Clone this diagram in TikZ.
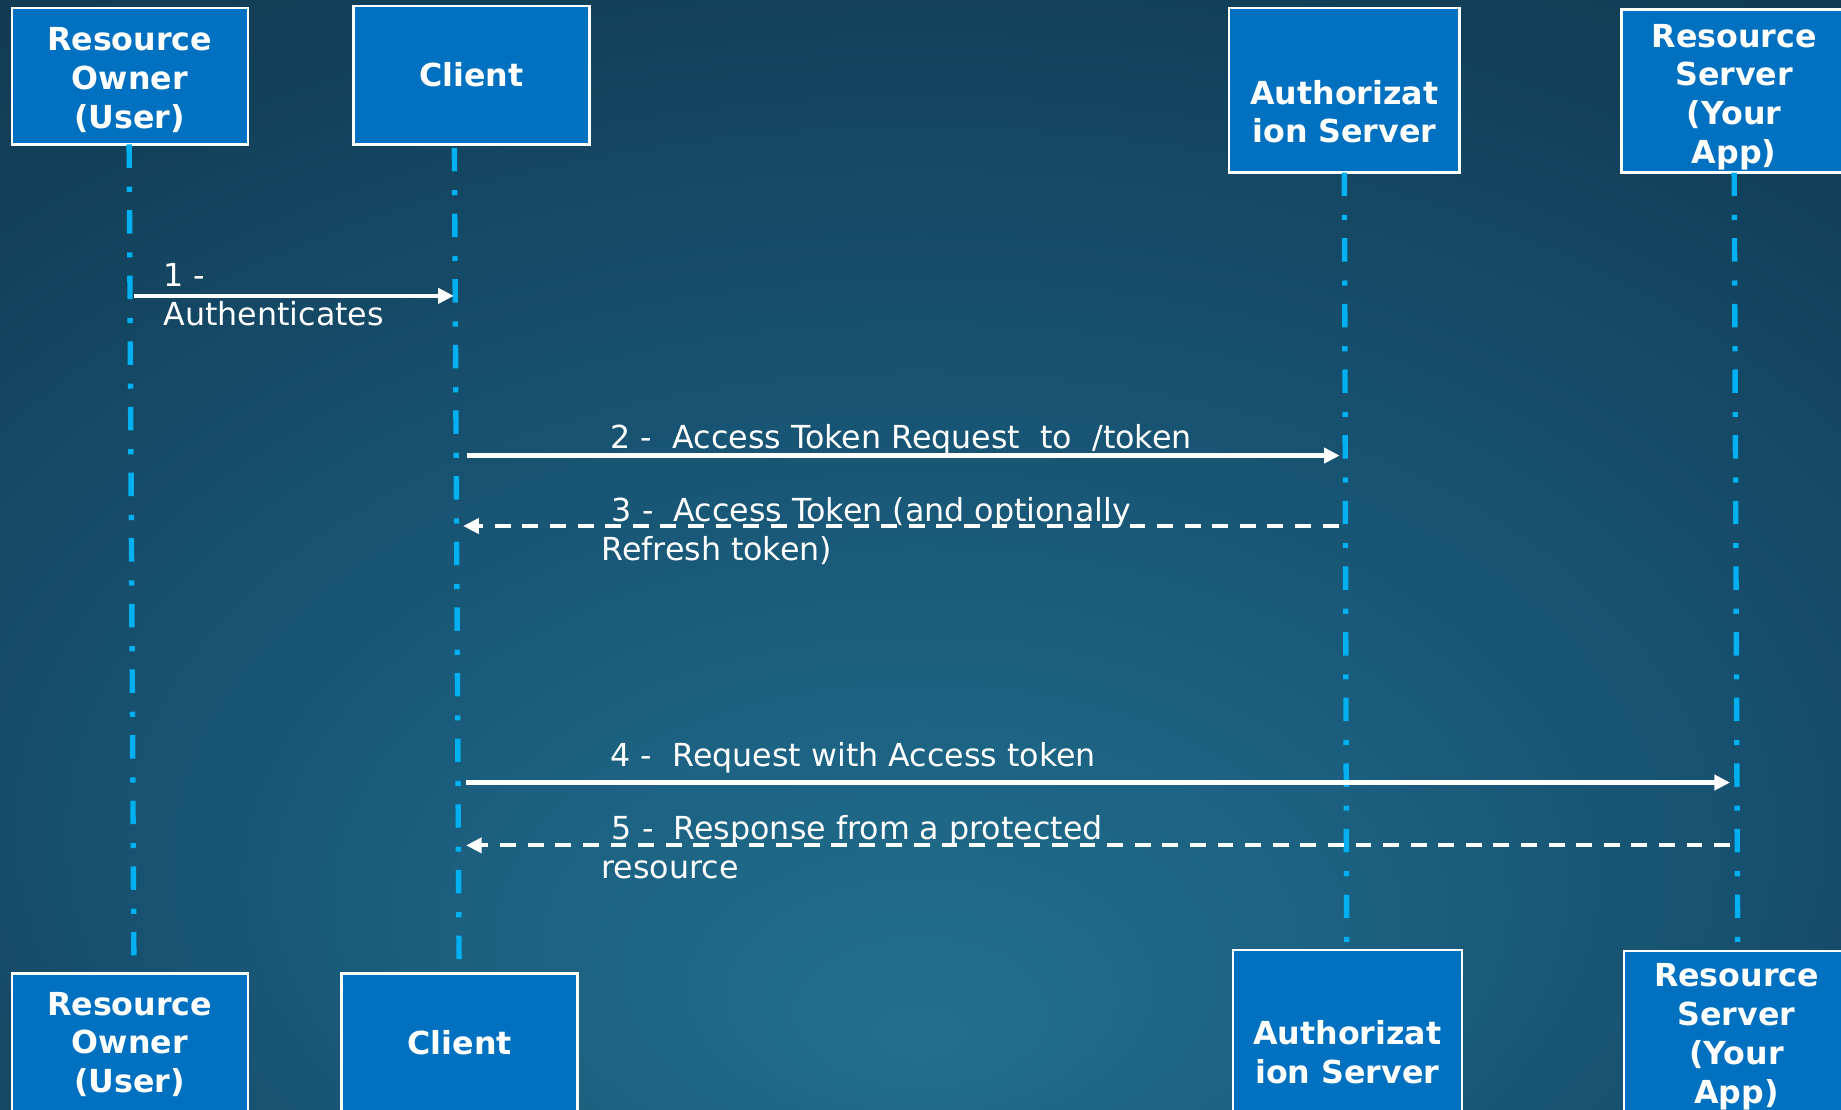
\documentclass[tikz,border=0pt]{standalone}
\usepackage{fontspec}
\setmainfont{DejaVu Sans}
\usetikzlibrary{arrows.meta}

\definecolor{boxblue}{HTML}{0070C0}
\definecolor{lifeblue}{HTML}{00B0F0}
\definecolor{bgA}{HTML}{21708F}
\definecolor{bgB}{HTML}{1D6383}
\definecolor{bgC}{HTML}{175170}
\definecolor{bgD}{HTML}{123F58}
\definecolor{bgE}{HTML}{0D3144}

% soft glow rising from the bottom centre of the page
\pgfdeclareradialshading{pagebg}{\pgfpoint{0bp}{-22bp}}{%
  color(0bp)=(bgA); color(10bp)=(bgB); color(22bp)=(bgC);
  color(35bp)=(bgD); color(55bp)=(bgE)}

\tikzset{
  actor/.style={draw=white, line width=2pt, fill=boxblue, inner sep=0pt},
  actortext/.style={text=white, inner sep=0pt,
    font=\bfseries\fontsize{27}{33}\selectfont},
  lifeline/.style={lifeblue, line width=4.6pt,
    dash pattern=on 20pt off 16pt on 4.4pt off 15.5pt},
  msg/.style={white, line width=3.6pt,
    -{Triangle[length=13.3pt,width=12.8pt]}},
  reply/.style={msg, dash pattern=on 13.5pt off 10pt},
  msgtext/.style={text=white, inner sep=0pt, anchor=base west,
    font=\fontsize{27}{33}\selectfont},
}

\begin{document}
\begin{tikzpicture}[x=1pt, y=-1pt]
\useasboundingbox (0,0) rectangle (1568,945);
\shade[shading=pagebg] (0,0) rectangle (1568,945);

% ---- participants, top row ----
\node[actor, minimum width=201pt, minimum height=116pt] (roT) at (110.5,65) {};
\node[actor, minimum width=201pt, minimum height=118pt] (clT) at (401.5,64) {};
\node[actor, minimum width=196pt, minimum height=140pt] (azT) at (1145,77) {};
\node[actor, minimum width=192pt, minimum height=139pt] (rsT) at (1477,77.5) {};

% ---- participants, bottom row ----
\node[actor, minimum width=201pt, minimum height=118pt] (roB) at (110.5,888) {};
\node[actor, minimum width=201pt, minimum height=118pt] (clB) at (391.5,888) {};
\node[actor, minimum width=195pt, minimum height=139pt] (azB) at (1147.5,878.5) {};
\node[actor, minimum width=192pt, minimum height=139pt] (rsB) at (1479,879.5) {};

% ---- participant names ----
\node[actortext] (roTt) at (110.5,69.5) {\begin{tabular}{@{}c@{}}Resource\\Owner\\(User)\end{tabular}};
\node[actortext] (clTt) at (401.5,64) {Client};
\node[actortext] (azTt) at (1145,98.5) {\begin{tabular}{@{}c@{}}Authorizat\\ion Server\end{tabular}};
\node[actortext] (rsTt) at (1477,83) {\begin{tabular}{@{}c@{}}Resource\\Server\\(Your\\App)\end{tabular}};
\node[actortext] (roBt) at (110.5,891) {\begin{tabular}{@{}c@{}}Resource\\Owner\\(User)\end{tabular}};
\node[actortext] (clBt) at (391.5,888) {Client};
\node[actortext] (azBt) at (1147.5,899.5) {\begin{tabular}{@{}c@{}}Authorizat\\ion Server\end{tabular}};
\node[actortext] (rsBt) at (1479,883.5) {\begin{tabular}{@{}c@{}}Resource\\Server\\(Your\\App)\end{tabular}};

% ---- lifelines ----
\coordinate (roL1) at (110,123);  \coordinate (roL2) at (114,814);
\coordinate (clL1) at (387,126);  \coordinate (clL2) at (391,818);
\coordinate (azL1) at (1145,147); \coordinate (azL2) at (1147,803);
\coordinate (rsL1) at (1477,147); \coordinate (rsL2) at (1480,803);
\draw[lifeline] (roL1) -- (roL2);
\draw[lifeline] (clL1) -- (clL2);
\draw[lifeline] (azL1) -- (azL2);
\draw[lifeline] (rsL1) -- (rsL2);

% ---- message ends on the lifelines ----
\coordinate (m1a) at (114,252);    \coordinate (m1b) at (386.5,252);
\coordinate (m2a) at (398,388);    \coordinate (m2b) at (1141,388);
\coordinate (m3a) at (1140,448);   \coordinate (m3b) at (394.5,448);
\coordinate (m4a) at (397,666.5);  \coordinate (m4b) at (1473.5,666.5);
\coordinate (m5a) at (1473.5,720); \coordinate (m5b) at (397,720);

% ---- messages ----
\node[msgtext] (t1) at (139,244) {\begin{tabular}[t]{@{}l@{}}1 -\\Authenticates\end{tabular}};
\node[msgtext] (t2) at (520,382) {2 -\ \ Access Token Request\ \ to\ \ /token};
\node[msgtext] (t3) at (512,444) {\begin{tabular}[t]{@{}l@{}}\hspace*{9pt}3 -\ \ Access Token (and optionally\\Refresh token)\end{tabular}};
\node[msgtext] (t4) at (520,653) {4 -\ \ Request with Access token};
\node[msgtext] (t5) at (512,715) {\begin{tabular}[t]{@{}l@{}}\hspace*{9pt}5 -\ \ Response from a protected\\resource\end{tabular}};

\draw[msg] (m1a) -- (m1b);
\draw[msg] (m2a) -- (m2b);
\draw[reply] (m3a) -- (m3b);
\draw[msg] (m4a) -- (m4b);
\draw[reply] (m5a) -- (m5b);
\end{tikzpicture}
\end{document}
